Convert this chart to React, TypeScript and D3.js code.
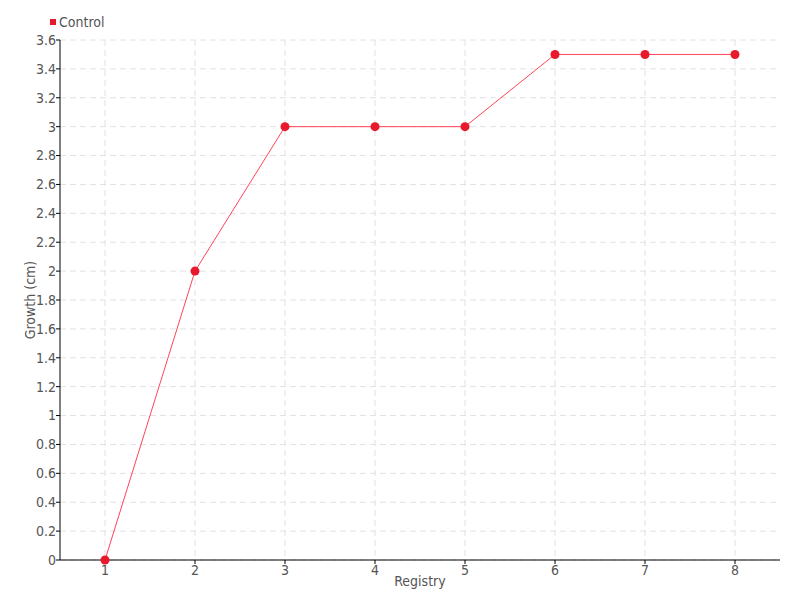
import * as d3 from "d3";

const registry = [1, 2, 3, 4, 5, 6, 7, 8];
const control = [0, 2, 3, 3, 3, 3.5, 3.5, 3.5];
const yTicks = d3.range(0, 3.61, 0.2).map((v) => +v.toFixed(1));

const W = 800;
const H = 600;
const M = { left: 60, right: 20, top: 40, bottom: 40 };
const FONT = "'DejaVu Sans Condensed', 'Liberation Sans Narrow', sans-serif";
const TEXT = "#555";
const RED = "#e8192c";

export default function App() {
  const x = d3
    .scaleLinear()
    .domain([0.5, 8.5])
    .range([M.left, W - M.right]);
  const y = d3
    .scaleLinear()
    .domain([0, 3.6])
    .range([H - M.bottom, M.top]);

  const pts = registry.map((r, i) => ({ r, v: control[i] }));
  const lineGen = d3
    .line<{ r: number; v: number }>()
    .x((d) => x(d.r))
    .y((d) => y(d.v));

  const x0 = M.left;
  const x1 = W - M.right;
  const yBase = y(0);

  return (
    <svg
      width={W}
      height={H}
      style={{ position: "absolute", left: 0, top: 0 }}
      fontFamily={FONT}
    >
      <rect width={W} height={H} fill="#fff" />
      {/* grid */}
      {yTicks.map((t) => (
        <line
          key={"gy" + t}
          x1={x0}
          x2={x1}
          y1={y(t)}
          y2={y(t)}
          stroke="#e2e2e2"
          strokeDasharray="6,4"
        />
      ))}
      {registry.map((r) => (
        <line
          key={"gx" + r}
          x1={x(r)}
          x2={x(r)}
          y1={M.top}
          y2={yBase}
          stroke="#e2e2e2"
          strokeDasharray="6,4"
        />
      ))}
      {/* axes */}
      <line x1={x0} x2={x0} y1={M.top} y2={yBase} stroke="#000" />
      <line x1={x0} x2={x1} y1={yBase} y2={yBase} stroke="#000" />
      {yTicks.map((t) => (
        <g key={"ty" + t}>
          <line x1={x0 - 4} x2={x0} y1={y(t)} y2={y(t)} stroke="#000" />
          <text
            x={x0 - 4}
            y={y(t)}
            dy="0.35em"
            textAnchor="end"
            fontSize={14}
            fill={TEXT}
          >
            {String(t)}
          </text>
        </g>
      ))}
      {registry.map((r) => (
        <g key={"tx" + r}>
          <line x1={x(r)} x2={x(r)} y1={yBase} y2={yBase + 4} stroke="#000" />
          <text
            x={x(r)}
            y={yBase + 15}
            textAnchor="middle"
            fontSize={14}
            fill={TEXT}
          >
            {r}
          </text>
        </g>
      ))}
      <text
        x={420}
        y={586}
        textAnchor="middle"
        fontSize={14}
        fill={TEXT}
      >
        Registry
      </text>
      <text
        transform={`translate(35,${(M.top + yBase) / 2}) rotate(-90)`}
        textAnchor="middle"
        fontSize={14}
        fill={TEXT}
      >
        Growth (cm)
      </text>
      {/* series */}
      <path d={lineGen(pts) ?? ""} fill="none" stroke="#ff4455" strokeWidth={1} />
      {pts.map((d) => (
        <circle key={d.r} cx={x(d.r)} cy={y(d.v)} r={4.5} fill={RED} />
      ))}
      {/* legend */}
      <rect x={50} y={19} width={6} height={6} fill={RED} />
      <text x={59} y={27} fontSize={14} fill={TEXT}>
        Control
      </text>
    </svg>
  );
}
